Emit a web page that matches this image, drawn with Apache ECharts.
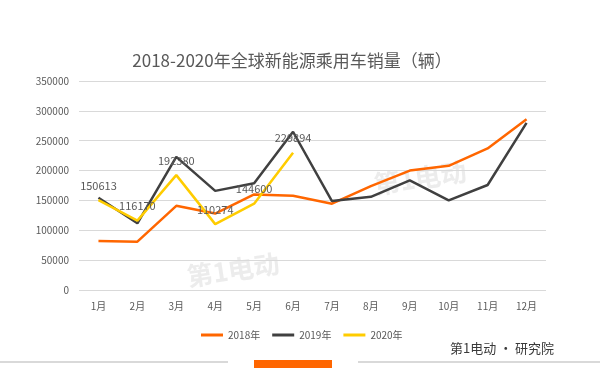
<!DOCTYPE html>
<html>
<head>
<meta charset="utf-8">
<script src="https://cdn.jsdelivr.net/npm/echarts@6/dist/echarts.min.js"></script>
<style>html,body{margin:0;padding:0;background:#fff;}#c{width:600px;height:379px;}</style>
</head>
<body>
<div id="c"></div>
<script>
var categories = ['1月','2月','3月','4月','5月','6月','7月','8月','9月','10月','11月','12月'];
var sales2018 = [82000, 81000, 141000, 128000, 160000, 158000, 144500, 174000, 200000, 208000, 237000, 286000];
var sales2019 = [154500, 111700, 223000, 166000, 178600, 265000, 149000, 156000, 183700, 150000, 175800, 280000];
var sales2020 = [150613, 116170, 192380, 110274, 144600, 229894];
var yTicks = [0, 50000, 100000, 150000, 200000, 250000, 300000, 350000];

var chart = echarts.init(document.getElementById('c'));
var font = '"Microsoft YaHei","Noto Sans CJK SC","Noto Sans",sans-serif';
chart.setOption({
  backgroundColor: '#fff',
  animation: false,
  title: {
    text: '2018-2020年全球新能源乘用车销量（辆）',
    left: 287, textAlign: 'center', top: 47,
    textStyle: {fontSize: 17, fontWeight: 'normal', color: '#595959', fontFamily: font}
  },
  legend: {
    left: 196, top: 325, itemGap: 12, itemWidth: 22, itemHeight: 3, icon: 'rect',
    textStyle: {fontSize: 10, color: '#595959', fontFamily: font},
    data: ['2018年','2019年','2020年']
  },
  grid: {left: 79, right: 54, top: 81, bottom: 89},
  xAxis: {
    type: 'category', data: categories, boundaryGap: true,
    axisLine: {show: false}, axisTick: {show: false},
    axisLabel: {fontSize: 10, color: '#595959', margin: 11, fontFamily: font}
  },
  yAxis: {
    type: 'value', min: yTicks[0], max: yTicks[yTicks.length-1], interval: 50000,
    axisLine: {show: false}, axisTick: {show: false},
    axisLabel: {fontSize: 10, color: '#595959', margin: 10, fontFamily: font, formatter: function (v) { return String(v); }},
    splitLine: {lineStyle: {color: '#d9d9d9', width: 1}}
  },
  graphic: [
    {type: 'text', left: 185, top: 250, rotation: 0.15, style: {text: '第1电动', fill: 'rgba(200,200,200,0.35)', font: 'bold 26px "Noto Sans CJK SC"'}, z: -1},
    {type: 'text', left: 372, top: 158, rotation: 0.15, style: {text: '第1电动', fill: 'rgba(200,200,200,0.35)', font: 'bold 26px "Noto Sans CJK SC"'}, z: -1},
    {type: 'rect', shape: {x: 0, y: 361, width: 228, height: 2}, style: {fill: '#d9d9d9'}},
    {type: 'rect', shape: {x: 254, y: 360, width: 78, height: 8}, style: {fill: '#ff6600'}},
    {type: 'rect', shape: {x: 358, y: 361, width: 242, height: 2}, style: {fill: '#d9d9d9'}},
    {type: 'text', left: 450, top: 342, style: {text: '第1电动 • 研究院', font: '13px "Noto Sans CJK SC"', fill: '#3a3a3a'}}
  ],
  series: [
    {name: '2018年', type: 'line', data: sales2018, symbol: 'none', lineStyle: {color: '#ff6600', width: 2.5}, itemStyle: {color: '#ff6600'}},
    {name: '2019年', type: 'line', data: sales2019, symbol: 'none', lineStyle: {color: '#404040', width: 2.5}, itemStyle: {color: '#404040'}},
    {name: '2020年', type: 'line', data: sales2020, symbol: 'circle', symbolSize: 0.1,
     lineStyle: {color: '#ffcc00', width: 2.5}, itemStyle: {color: '#ffcc00'},
     label: {show: true, position: 'top', distance: 9, fontSize: 11, color: '#595959', fontFamily: font}}
  ]
});
</script>
</body>
</html>
